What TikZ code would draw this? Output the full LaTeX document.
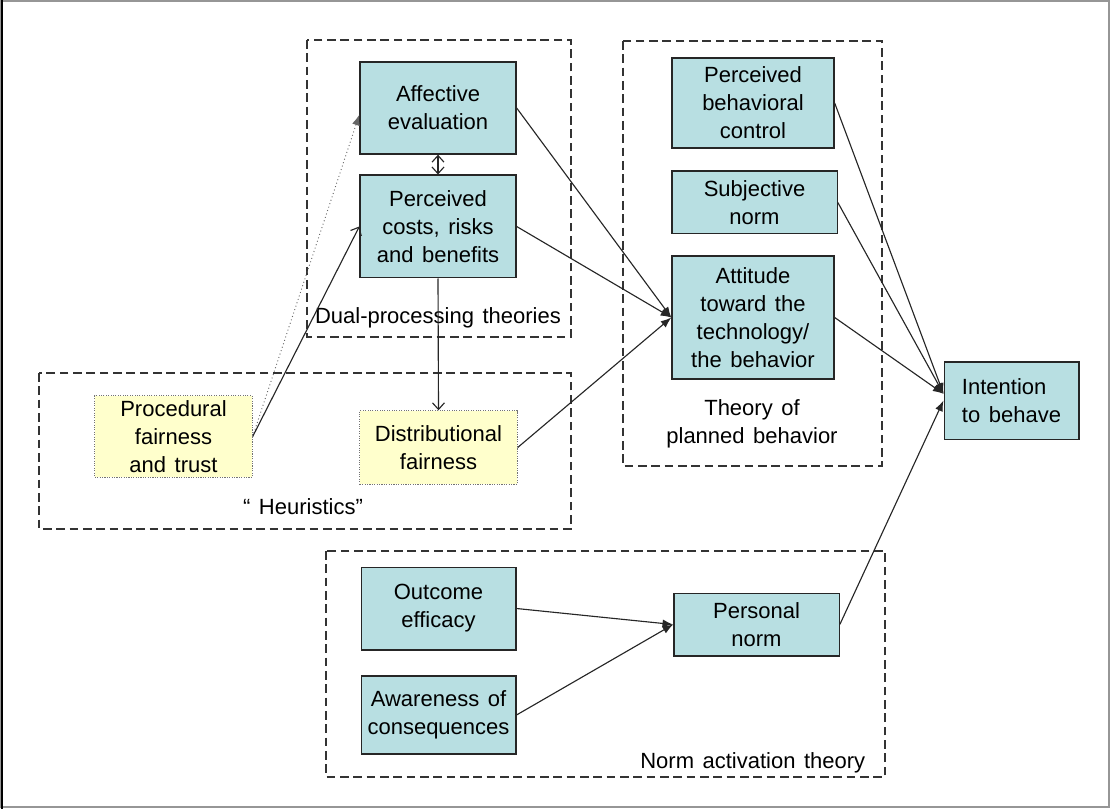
\documentclass[tikz,border=0pt]{standalone}
\usepackage{fontspec}
\setmainfont[WordSpace=1.4]{Liberation Sans}
\usepackage{tikz}
\usetikzlibrary{
  arrows.meta,              % 箭头样式
  calc,                     % 坐标计算
  positioning               % 节点相对定位
}
\definecolor{boxblue}{RGB}{184,223,226}
\definecolor{boxyellow}{RGB}{255,255,204}
\definecolor{framegray}{RGB}{150,150,150}
\tikzset{
  model box/.style={
    draw=black!85,
    fill=boxblue,
    line width=1pt,
    align=center,
    inner sep=0pt
  },
  heuristic box/.style={
    draw=black!55,
    fill=boxyellow,
    densely dotted,
    line width=0.8pt,
    align=center,
    inner sep=0pt
  },
  theory frame/.style={
    draw=black!80,
    dash pattern=on 6.5pt off 3.5pt,
    line width=0.9pt
  },
  link/.style={
    -{Latex[length=8pt,width=6pt]},
    line width=0.85pt,
    color=black!85
  },
  open link/.style={
    -{Straight Barb[length=5pt,width=9pt]},
    line width=0.85pt,
    color=black!85
  },
  weak link/.style={
    -{Latex[length=8pt,width=6pt]},
    dotted,
    line width=0.7pt,
    color=black!60
  }
}

\begin{document}
\begin{tikzpicture}[x=0.75pt, y=-0.75pt, font=\fontsize{16.5}{21}\selectfont] % 坐标按原图像素给出，y 轴向下
  % 整体外框
  \useasboundingbox (0,0) rectangle (1110,809);
  \draw[framegray, line width=1.2pt] (1,1) rectangle (1109,807); % 灰色外框
  \draw[black, line width=1.5pt] (2,0) -- (2,809);                % 左侧深色边

  % 四个理论的虚线框
  \draw[theory frame] (307,40) rectangle (571,337);   % 双加工理论
  \draw[theory frame] (39,373) rectangle (571,529);   % 启发式
  \draw[theory frame] (623,41) rectangle (882,466);   % 计划行为理论
  \draw[theory frame] (326,551) rectangle (885,777);  % 规范激活理论

  % 双加工理论中的节点
  \node[model box, minimum width=117pt, minimum height=69pt] (aff) at (438,108) {Affective\\evaluation};
  \node[model box, minimum width=117pt, minimum height=77pt] (cost) at (438,226.5) {Perceived\\costs, risks\\and benefits};
  \node at (438,318) {Dual-processing theories};

  % 启发式节点
  \node[heuristic box, minimum width=118pt, minimum height=61pt] (proc) at (173.5,436.5) {Procedural\\fairness\\and trust};
  \node[heuristic box, minimum width=118pt, minimum height=55pt] (dist) at (438.5,447.5) {Distributional\\fairness};
  \node at (303,507) {“ Heuristics”};

  % 计划行为理论节点
  \node[model box, minimum width=121.5pt, minimum height=67.5pt] (pbc) at (753,103) {Perceived\\behavioral\\control};
  \node[model box, minimum width=124pt, minimum height=47pt] (subj) at (754.5,202.5) {Subjective\\norm};
  \node[model box, minimum width=121.5pt, minimum height=92pt] (att) at (753,317.5) {Attitude\\toward the\\technology/\\the behavior};
  \node[align=center] at (752,424) {Theory of\\planned behavior};

  % 行为意向
  \node[model box, align=left, minimum width=101pt, minimum height=58pt] (int) at (1011.5,400.5) {Intention\\to behave};

  % 规范激活理论节点
  \node[model box, minimum width=116pt, minimum height=62pt] (outc) at (438.5,608.5) {Outcome\\efficacy};
  \node[model box, minimum width=116pt, minimum height=58.5pt] (aware) at (438.5,715) {Awareness of\\consequences};
  \node[model box, minimum width=124pt, minimum height=47pt] (pers) at (756.5,624.5) {Personal\\norm};
  \node[anchor=east] at (870,763) {Norm activation theory};

  % 连线
  \draw[weak link] (proc.east) -- ([yshift=-5pt]aff.west);
  \draw[open link] (proc.east) -- (cost.west);
  \draw[{Straight Barb[length=5pt,width=9pt]}-{Straight Barb[length=5pt,width=9pt]}, line width=0.85pt, black!85] (aff.south) -- (cost.north);
  \draw[open link] (cost.south) -- (dist.north);
  \draw[link] (aff.east) -- (att.west);
  \draw[link] (cost.east) -- (att.west);
  \draw[link] (dist.east) -- (att.west);
  \draw[link] (pbc.east) -- ([yshift=5pt]int.west);
  \draw[link] (subj.east) -- ([yshift=5pt]int.west);
  \draw[link] (att.east) -- ([yshift=5pt]int.west);
  \draw[link] (pers.east) -- (int.west);
  \draw[link] (outc.east) -- (pers.west);
  \draw[link] (aware.east) -- (pers.west);

\end{tikzpicture}
\end{document}
